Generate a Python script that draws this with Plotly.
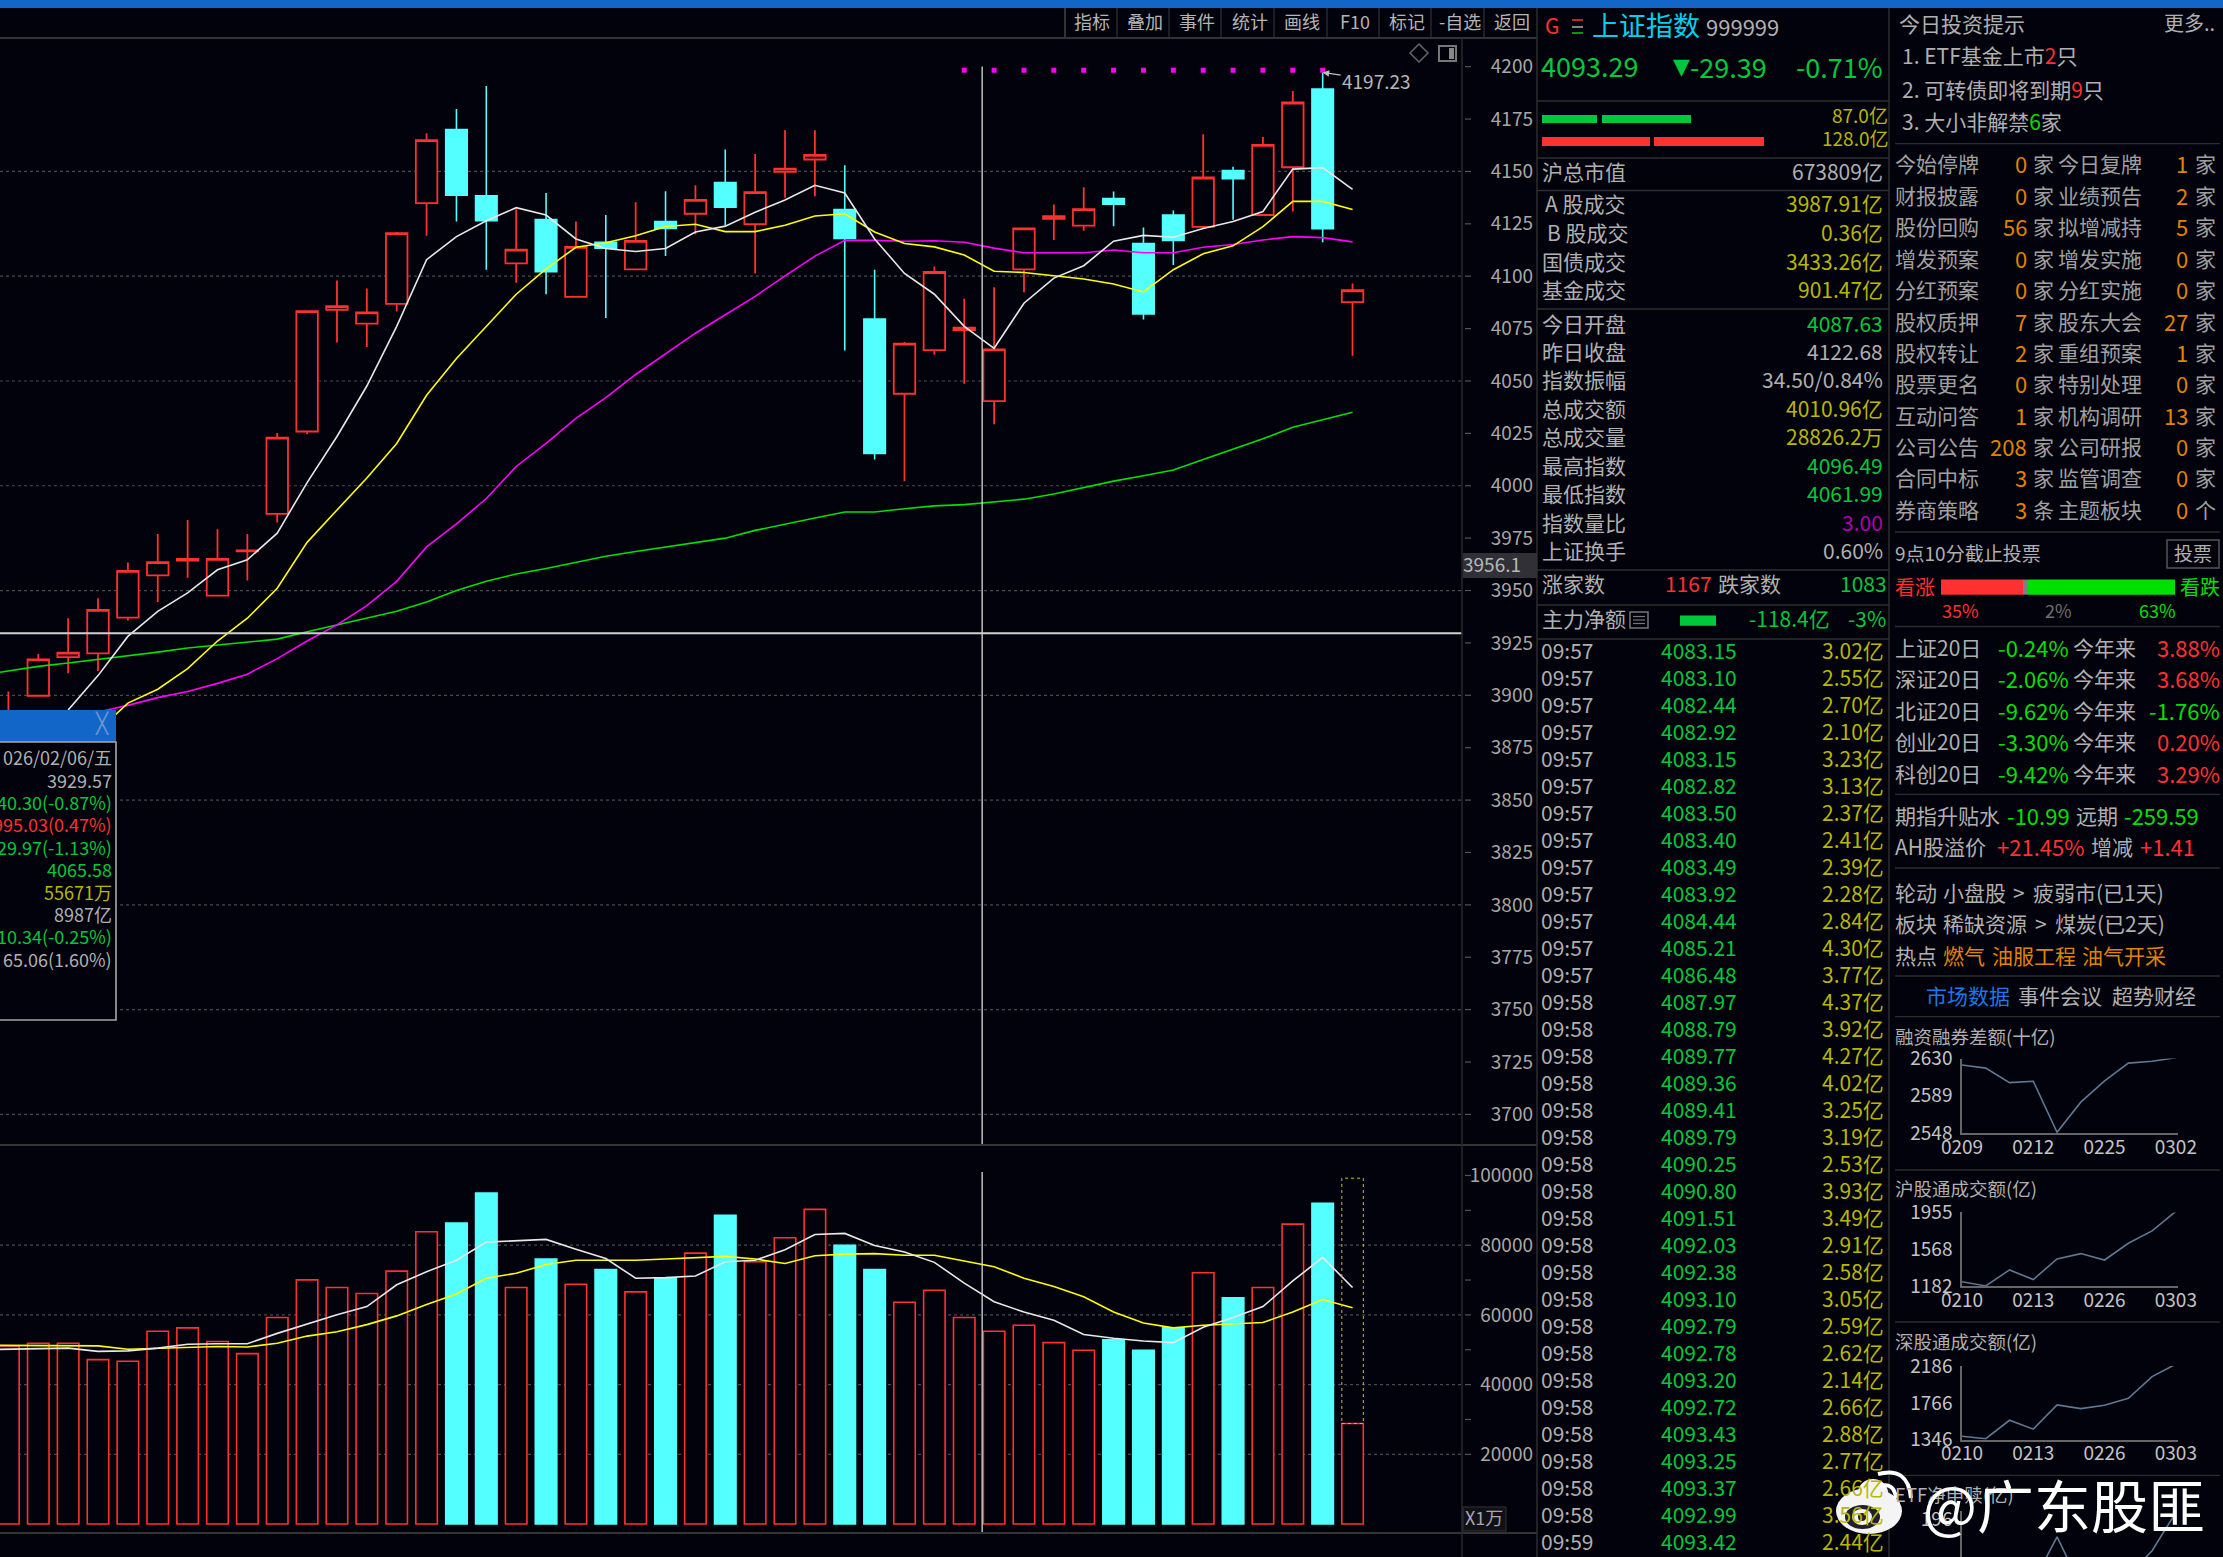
import plotly.graph_objects as go

W, H = 2223, 1557
BG = "#02020c"
RED = "#ff3030"
CYAN = "#54ffff"
GRAY = "#b0b0b0"
OLIVE = "#b8b800"
GREEN = "#00c83c"
LIME = "#00e000"
ORANGE = "#e08400"
BLUE = "#1166c8"
FONT = "Noto Sans CJK SC"

# ---------- kline data ----------
candle_open = [3870.0,3899.8,3918.2,3920.0,3937.1,3957.2,3964.3,3947.6,3968.7,3986.6,4025.9,4084.0,4077.4,4086.8,4134.9,4170.0,4138.4,4106.1,4127.0,4090.1,4116.2,4103.3,4126.1,4129.8,4144.7,4124.8,4149.8,4155.7,4131.8,4079.6,4043.9,4064.7,4074.3,4040.4,4103.3,4127.4,4124.1,4137.1,4115.6,4129.2,4123.5,4150.4,4129.2,4152.0,4189.3,4087.63]
candle_high = [3901.8,3919.7,3936.8,3946.3,3963.4,3977.0,3983.6,3979.2,3977.0,4025.2,4083.3,4098.0,4094.1,4121.1,4168.2,4179.8,4190.8,4132.0,4139.7,4126.1,4129.2,4135.3,4140.6,4143.4,4160.5,4158.3,4169.7,4169.7,4152.9,4103.1,4068.6,4104.6,4089.3,4094.7,4122.8,4134.2,4142.5,4140.4,4123.2,4131.4,4167.8,4152.2,4166.4,4188.4,4197.23,4096.49]
candle_low = [3865.0,3899.5,3910.5,3911.6,3935.7,3944.5,3956.1,3947.2,3954.8,3982.5,4024.6,4068.4,4066.2,4083.1,4119.3,4126.1,4103.1,4096.9,4091.4,4089.7,4080.0,4103.3,4109.6,4120.0,4124.3,4101.3,4137.5,4138.2,4064.5,4012.5,4002.2,4062.5,4048.7,4029.4,4092.3,4117.3,4121.7,4123.9,4079.4,4105.3,4122.8,4127.0,4128.7,4130.9,4116.2,4061.99]
candle_close = [3880.0,3917.1,3920.4,3940.8,3959.4,3963.6,3965.1,3965.1,3969.1,4023.0,4083.3,4085.7,4082.7,4120.6,4164.9,4138.6,4126.5,4112.7,4102.2,4114.0,4113.4,4116.9,4122.8,4136.4,4132.9,4140.1,4151.3,4157.9,4118.0,4015.4,4067.8,4102.0,4075.4,4065.1,4122.8,4128.7,4132.0,4134.4,4082.0,4117.1,4147.1,4146.5,4162.7,4182.9,4122.68,4093.29]

ma5_x = list(range(2, 46))
ma5 = [3893.0,3909.4,3928.1,3940.1,3948.9,3959.9,3964.7,3977.4,4001.5,4023.5,4047.6,4076.1,4107.9,4118.9,4126.5,4132.7,4129.2,4117.8,4113.2,4111.8,4113.2,4121.1,4123.9,4130.5,4136.4,4143.4,4139.7,4117.8,4101.3,4091.4,4076.1,4065.6,4087.1,4099.1,4105.0,4116.7,4119.5,4118.6,4122.8,4126.1,4130.9,4151.1,4151.8,4141.4]
ma10_x = list(range(3, 46))
ma10 = [3883.0,3896.3,3902.9,3912.7,3925.9,3936.8,3951.1,3973.0,3988.4,4003.7,4020.2,4043.2,4060.7,4076.1,4091.4,4103.5,4113.8,4116.0,4119.3,4123.7,4124.8,4121.3,4121.3,4124.3,4128.7,4129.8,4121.1,4115.6,4114.0,4110.1,4102.4,4101.8,4100.2,4098.7,4096.3,4092.5,4103.1,4110.7,4114.5,4123.7,4135.7,4135.7,4131.8]
ma20_x = list(range(3, 46))
ma20 = [3892.0,3895.2,3898.9,3901.8,3905.7,3910.1,3917.5,3925.9,3933.6,3942.8,3954.4,3970.8,3981.8,3993.9,4009.2,4020.2,4032.2,4042.1,4053.1,4062.9,4072.8,4081.6,4090.4,4100.2,4109.6,4117.1,4117.1,4116.7,4116.9,4116.2,4113.4,4111.2,4111.2,4111.2,4112.5,4111.2,4111.2,4113.8,4115.1,4117.3,4118.9,4118.4,4116.4]
ma60_x = list(range(-1, 46))
ma60 = [3909.4,3911.6,3913.8,3915.4,3917.1,3918.6,3920.6,3922.6,3923.9,3925.4,3926.8,3930.3,3933.6,3936.8,3940.1,3944.5,3950.0,3954.4,3957.9,3960.5,3963.4,3966.4,3968.6,3970.8,3972.8,3975.0,3978.7,3981.8,3984.6,3987.5,3987.5,3989.0,3990.4,3991.0,3992.3,3993.6,3996.1,3999.3,4002.2,4004.8,4007.5,4012.5,4017.5,4022.4,4027.9,4031.4,4035.1]

volume = [51100,51880,51880,47180,46710,55330,56270,52350,48900,59250,70060,67870,66140,72570,83860,86360,94980,67870,76020,68810,73040,66610,70530,77740,88560,75240,82130,90280,79940,73040,63640,67080,59250,55330,57050,52040,49840,52820,49840,56270,72100,64890,67870,86050,92000,28840]
volume_ghost = 99220
vol_ma_x = list(range(-1, 46))
vol_ma5 = [50000,50160,50470,50470,49530,49690,50470,51570,51720,51720,54700,57370,60030,62380,68650,72410,75700,80880,81190,81660,78840,76170,70530,70690,71160,75240,75700,78680,83070,83390,79940,78060,75080,69120,63790,60810,58460,54390,53290,52510,52040,56430,59250,62380,69750,76490,67870]
vol_ma10 = [51300,51250,51100,51100,51100,50160,50470,50630,50940,50780,51880,53920,55170,57210,59720,63010,65990,70530,71940,74450,75700,75700,75700,76020,76490,76800,76020,74770,76960,77430,77590,77120,77120,75390,73820,70530,68180,65200,60810,57680,56270,57050,57370,57840,60810,64420,62070]

price_ticks = [4200,4175,4150,4125,4100,4075,4050,4025,4000,3975,3950,3925,3900,3875,3850,3825,3800,3775,3750,3725,3700]
price_grid = [4150,4100,4050,4000,3950,3900,3850,3800,3750,3700]
vol_ticks = [100000,80000,60000,40000,20000]
vol_minor = [90000,70000,50000,30000]
vol_grid = [80000,60000,40000,20000]
high_marks_x = list(range(32, 45))
high_mark_level = 4198.3
peak_price = 4197.23
cross_price = 3929.57
cross_index = 32.6

# ---------- side panel data ----------
tape_times = ["09:57"]*13 + ["09:58"]*20 + ["09:59"]
tape_prices = ["4083.15","4083.10","4082.44","4082.92","4083.15","4082.82","4083.50","4083.40","4083.49","4083.92","4084.44","4085.21","4086.48","4087.97","4088.79","4089.77","4089.36","4089.41","4089.79","4090.25","4090.80","4091.51","4092.03","4092.38","4093.10","4092.79","4092.78","4093.20","4092.72","4093.43","4093.25","4093.37","4092.99","4093.42"]
tape_amounts = ["3.02","2.55","2.70","2.10","3.23","3.13","2.37","2.41","2.39","2.28","2.84","4.30","3.77","4.37","3.92","4.27","4.02","3.25","3.19","2.53","3.93","3.49","2.91","2.58","3.05","2.59","2.62","2.14","2.66","2.88","2.77","2.66","3.56","2.44"]

quote_labels = ["沪总市值","A 股成交","B 股成交","国债成交","基金成交","今日开盘","昨日收盘","指数振幅","总成交额","总成交量","最高指数","最低指数","指数量比","上证换手"]
quote_label_x = [1542,1545,1547,1542,1542,1542,1542,1542,1542,1542,1542,1542,1542,1542]
quote_values = ["673809亿","3987.91亿","0.36亿","3433.26亿","901.47亿","4087.63","4122.68","34.50/0.84%","4010.96亿","28826.2万","4096.49","4061.99","3.00","0.60%"]
quote_colors = [GRAY,OLIVE,OLIVE,OLIVE,OLIVE,GREEN,GRAY,GRAY,OLIVE,OLIVE,GREEN,GREEN,"#b000b0",GRAY]

tip_left = ["今始停牌","财报披露","股份回购","增发预案","分红预案","股权质押","股权转让","股票更名","互动问答","公司公告","合同中标","券商策略"]
tip_left_n = ["0","0","56","0","0","7","2","0","1","208","3","3"]
tip_left_u = ["家"]*11 + ["条"]
tip_right = ["今日复牌","业绩预告","拟增减持","增发实施","分红实施","股东大会","重组预案","特别处理","机构调研","公司研报","监管调查","主题板块"]
tip_right_n = ["1","2","5","0","0","27","1","0","13","0","0","0"]
tip_right_u = ["家"]*11 + ["个"]

perf_names = ["上证20日","深证20日","北证20日","创业20日","科创20日"]
perf_20d = ["-0.24%","-2.06%","-9.62%","-3.30%","-9.42%"]
perf_ytd = ["3.88%","3.68%","-1.76%","0.20%","3.29%"]

popup_rows = ["026/02/06/五","3929.57","40.30(-0.87%)","995.03(0.47%)","29.97(-1.13%)","4065.58","55671万","8987亿","10.34(-0.25%)","65.06(1.60%)"]
popup_colors = [GRAY,GRAY,GREEN,RED,GREEN,GREEN,OLIVE,GRAY,GREEN,GRAY]

toolbar = ["指标","叠加","事件","统计","画线","F10","标记","-自选","返回"]

margin_dates = ["0209","0212","0225","0302"]
margin_vals = [2623,2619.5,2603.5,2605,2548.8,2582,2605.4,2625,2627,2631]
margin_ticks = [2548,2589,2630]
sh_dates = ["0210","0213","0226","0303"]
sh_vals = [1230,1186,1353,1253,1468,1524,1457,1632,1762,1966]
sh_ticks = [1182,1568,1955]
sz_vals = [1386,1358,1568,1467,1742,1701,1738,1818,2065,2206]
sz_ticks = [1346,1766,2186]
etf_vals = [None,None,None,-57,126,-71,-100,-29,70,225]
etf_ticks = [62,196]

# ---------- helpers ----------
X = lambda x: x / W
Y = lambda y: 1 - y / H
annos, shapes = [], []

def T(x, y, text, color=GRAY, size=21, anchor="left", fontname=FONT):
    annos.append(dict(xref="paper", yref="paper", x=X(x), y=Y(y - 1.8), text=text, showarrow=False,
                      xanchor=anchor, yanchor="middle", align=anchor, borderpad=0, borderwidth=0,
                      font=dict(family=fontname, size=size, color=color)))

def rect(x0, y0, x1, y1, fill=None, line=None, lw=1, layer="above"):
    shapes.append(dict(type="rect", xref="paper", yref="paper", x0=X(x0), x1=X(x1), y0=Y(y0), y1=Y(y1),
                       fillcolor=fill or "rgba(0,0,0,0)", line=dict(color=line or "rgba(0,0,0,0)", width=lw if line else 0), layer=layer))

def oval(x0, y0, x1, y1, fill):
    shapes.append(dict(type="circle", xref="paper", yref="paper", x0=X(x0), x1=X(x1), y0=Y(y0), y1=Y(y1),
                       fillcolor=fill, line=dict(width=0), layer="above"))

def seg(x0, y0, x1, y1, color="#2e2e2e", lw=1.5, dash="solid"):
    shapes.append(dict(type="line", xref="paper", yref="paper", x0=X(x0), x1=X(x1), y0=Y(y0), y1=Y(y1),
                       line=dict(color=color, width=lw, dash=dash), layer="above"))

def curve(points, color="white", lw=4):
    (a, b), (c, d), (e, f) = points
    shapes.append(dict(type="path", xref="paper", yref="paper", layer="above",
                       path=f"M {X(a)} {Y(b)} Q {X(c)} {Y(d)} {X(e)} {Y(f)}",
                       line=dict(color=color, width=lw), fillcolor="rgba(0,0,0,0)"))

fig = go.Figure()
idx = list(range(len(candle_open)))

# ---------- kline ----------
fig.add_trace(go.Candlestick(x=idx, open=candle_open, high=candle_high, low=candle_low, close=candle_close,
    increasing=dict(line=dict(color=RED, width=1.8), fillcolor=BG),
    decreasing=dict(line=dict(color=CYAN, width=1.6), fillcolor=CYAN),
    whiskerwidth=0, xaxis="x", yaxis="y", showlegend=False))
for xs, ys, c, w in [(ma60_x, ma60, "#00e000", 1.6), (ma20_x, ma20, "#ff00ff", 1.6),
                     (ma10_x, ma10, "#ffff00", 1.6), (ma5_x, ma5, "#e8e8e8", 1.6)]:
    fig.add_trace(go.Scatter(x=xs, y=ys, mode="lines", line=dict(color=c, width=w), xaxis="x", yaxis="y", showlegend=False))
fig.add_trace(go.Scatter(x=high_marks_x, y=[high_mark_level]*len(high_marks_x), mode="markers",
                         marker=dict(symbol="square", size=5, color="#ff00ff"), xaxis="x", yaxis="y", showlegend=False))

# ---------- volume ----------
is_up = [c >= o for o, c in zip(candle_open, candle_close)]
fig.add_trace(go.Bar(x=idx, y=volume, width=0.72, xaxis="x2", yaxis="y2", showlegend=False,
    marker=dict(color=[BG if u else CYAN for u in is_up], line=dict(color=[RED if u else CYAN for u in is_up], width=1.6))))
fig.add_trace(go.Scatter(x=vol_ma_x, y=vol_ma10, mode="lines", line=dict(color="#ffff00", width=1.6), xaxis="x2", yaxis="y2", showlegend=False))
fig.add_trace(go.Scatter(x=vol_ma_x, y=vol_ma5, mode="lines", line=dict(color="#e8e8e8", width=1.6), xaxis="x2", yaxis="y2", showlegend=False))

# ---------- sparklines ----------
spark_x = list(range(10))
for n, vals in zip([3, 4, 5, 6], [margin_vals, sh_vals, sz_vals, etf_vals]):
    fig.add_trace(go.Scatter(x=spark_x, y=vals, mode="lines", line=dict(color="#5f7893", width=1.6), cliponaxis=False,
                             connectgaps=False, xaxis=f"x{n}", yaxis=f"y{n}", showlegend=False))

XR = [-8.4 / 29.87, (1462 - 8.4) / 29.87]
tickfont = dict(family=FONT, size=19, color="#a8a8a8")
layout = dict(
    width=W, height=H, margin=dict(l=0, r=0, t=0, b=0, pad=0, autoexpand=False), paper_bgcolor=BG, plot_bgcolor=BG, autosize=False,
    bargap=0.28, boxgap=0.28, boxgroupgap=0, hovermode=False,
    font=dict(family=FONT),
    xaxis=dict(domain=[0, 1462 / W], range=XR, visible=False, rangeslider=dict(visible=False), anchor="y"),
    yaxis=dict(domain=[Y(1145), Y(39)], range=[3685.4, 4213.2], anchor="free", position=1533 / W, side="left",
               tickmode="array", tickvals=price_ticks, ticks="", showgrid=False, zeroline=False, showline=False, tickfont=tickfont),
    xaxis2=dict(domain=[0, 1462 / W], range=XR, visible=False, anchor="y2"),
    yaxis2=dict(domain=[Y(1533), Y(1145)], range=[-2582, 108752], anchor="free", position=1533 / W, side="left",
                tickmode="array", tickvals=vol_ticks, tickformat="d", ticks="", showgrid=False, zeroline=False, showline=False, tickfont=tickfont),
)

def spark_axes(n, top, bottom, ymin, ymax, yticks, dates, show_x=True):
    layout[f"xaxis{n}"] = dict(domain=[1962 / W, 2178 / W], range=[0, 9.09], anchor=f"y{n}", showgrid=False, zeroline=False,
                               showline=show_x, linecolor="#666666", linewidth=1.5, ticks="", ticklabelstandoff=-4,
                               tickmode="array", tickvals=[0, 3, 6, 9] if show_x else [], ticktext=dates, tickfont=dict(family=FONT, size=19, color="#c4c4c4"))
    layout[f"yaxis{n}"] = dict(domain=[Y(bottom), Y(top)], range=[ymin, ymax], anchor=f"x{n}", showgrid=False, zeroline=False,
                               showline=True, linecolor="#666666", linewidth=1.5, ticks="",
                               tickmode="array", tickvals=yticks, tickfont=dict(family=FONT, size=19, color="#c4c4c4"), ticklabelstandoff=4)

spark_axes(3, 1058.6, 1133, margin_ticks[0], margin_ticks[-1], margin_ticks, margin_dates)
spark_axes(4, 1212.4, 1286.3, sh_ticks[0], sh_ticks[-1], sh_ticks, sh_dates)
spark_axes(5, 1365.9, 1439.8, sz_ticks[0], sz_ticks[-1], sz_ticks, sh_dates)
spark_axes(6, 1511, 1557, 44.7, 230.8, etf_ticks, [], show_x=False)

# ---------- chart furniture ----------
for v in price_grid:
    shapes.append(dict(type="line", xref="paper", yref="y", x0=0, x1=1462 / W, y0=v, y1=v, layer="below",
                       line=dict(color="#4a4a4a", width=1.2, dash="dot")))
for v in vol_grid:
    shapes.append(dict(type="line", xref="paper", yref="y2", x0=0, x1=1462 / W, y0=v, y1=v, layer="below",
                       line=dict(color="#4a4a4a", width=1.2, dash="dot")))
for v in price_ticks:
    shapes.append(dict(type="line", xref="paper", yref="y", x0=1465 / W, x1=1471 / W, y0=v, y1=v, line=dict(color="#555555", width=1.2), layer="above"))
for v in vol_ticks + vol_minor:
    shapes.append(dict(type="line", xref="paper", yref="y2", x0=1465 / W, x1=1471 / W, y0=v, y1=v, line=dict(color="#555555", width=1.2), layer="above"))

# ghost volume box
shapes.append(dict(type="rect", xref="x2", yref="y2", x0=44.64, x1=45.36, y0=volume[-1], y1=volume_ghost,
                   line=dict(color="#c8c800", width=1, dash="dot"), fillcolor="rgba(0,0,0,0)", layer="above"))
# crosshair
shapes.append(dict(type="line", xref="x", yref="paper", x0=cross_index, x1=cross_index, y0=Y(1145), y1=Y(66.6), line=dict(color="#d8d8d8", width=1.3), layer="above"))
shapes.append(dict(type="line", xref="x2", yref="paper", x0=cross_index, x1=cross_index, y0=Y(1533), y1=Y(1172), line=dict(color="#d8d8d8", width=1.3), layer="above"))
shapes.append(dict(type="line", xref="paper", yref="y", x0=0, x1=1462 / W, y0=cross_price, y1=cross_price, line=dict(color="#d0d0d0", width=2), layer="above"))

# frame
rect(0, 0, W, 8, fill=BLUE)
seg(0, 38, 1537, 38, "#333333", 2)
seg(0, 1145, 1537, 1145, "#333333", 2)
seg(0, 1533, 1537, 1533, "#333333", 2)
seg(1462, 38, 1462, 1557, "#2a2a2a", 1.5)
seg(1537, 8, 1537, H, "#2e2e2e", 1.5)
seg(1889, 8, 1889, H, "#2e2e2e", 1.5)
for sx in [1065, 1117, 1169, 1221, 1274, 1327, 1379, 1431, 1484]:
    seg(sx, 8, sx, 38, "#333333", 2 if sx == 1065 else 1.2)
for i, lab in enumerate(toolbar):
    T(1092 + 52.5 * i, 23, lab, "#b4b4b4", 18, "center")

# chart icons
shapes.append(dict(type="path", xref="paper", yref="paper", layer="above",
                   path=f"M {X(1410)} {Y(53)} L {X(1419)} {Y(44)} L {X(1428)} {Y(53)} L {X(1419)} {Y(62)} Z",
                   line=dict(color="#666666", width=1.5), fillcolor="rgba(0,0,0,0)"))
rect(1439, 46, 1456, 61, line="#777777", lw=2)
rect(1449, 48, 1454, 59, fill="#888888")

# crosshair value box
rect(1463, 553, 1537, 578, fill="#303036")
T(1492, 565.5, "3956.1", "#b8b8b8", 19, "center")
rect(1463, 1507, 1506, 1531, fill="#101016", line="#333333", lw=1)
T(1484, 1519, "X1万", "#a8a8a8", 18, "center")

# peak label
annos.append(dict(xref="x", yref="y", x=44, y=peak_price, text="4197.23", showarrow=True, arrowhead=2, arrowsize=1, arrowwidth=1.3,
                  arrowcolor="#c0c0c0", ax=54, ay=8, standoff=0, font=dict(family=FONT, size=19, color="#b8b8b8")))

# popup
rect(0, 710, 116, 742, fill=BLUE)
rect(-3, 742, 116, 1020, fill=BG, line="#a8a8a8", lw=1.6)
T(101.5, 725, "╳", "#6f95cf", 20, "center", "DejaVu Sans")
for i, (s, c) in enumerate(zip(popup_rows, popup_colors)):
    T(111.5, 759 + 22.4 * i, s, c, 18, "right")

# ---------- middle panel ----------
for y in [101, 158, 190.6, 309, 570, 605, 639]:
    seg(1537, y, 1889, y, "#303030", 1.5)
T(1552, 27, "G", RED, 21, "center")
for ly, c in [(20, RED), (27, "#b0b0b0"), (33, "#00d000")]:
    seg(1572, ly, 1583, ly, c, 1.5)
T(1592, 26.5, "上证指数", "#00d0f0", 27)
T(1706, 27.5, "999999", GRAY, 22)
T(1541, 67, "4093.29", GREEN, 27)
T(1681, 68, "▼", GREEN, 22, "center", "DejaVu Sans")
T(1767, 68, "-29.39", GREEN, 27, "right")
T(1883, 68, "-0.71%", GREEN, 27, "right")
rect(1542, 115, 1597, 123, fill="#00c83c")
rect(1602, 115, 1691, 123, fill="#00c83c")
rect(1542, 137, 1650, 146, fill=RED)
rect(1654, 137, 1764, 146, fill=RED)
T(1888, 116, "87.0亿", OLIVE, 19, "right")
T(1888, 139, "128.0亿", OLIVE, 19, "right")
quote_y = [172.6, 205, 234, 262.5, 290.6, 324.5, 352.7, 381, 409.4, 438, 466.5, 495, 523.7, 552]
for lab, lx, val, col, y in zip(quote_labels, quote_label_x, quote_values, quote_colors, quote_y):
    T(lx, y, lab, GRAY, 21)
    T(1883, y, val, col, 21, "right")
T(1542, 585, "涨家数", GRAY, 21)
T(1712, 585, "1167", RED, 21, "right")
T(1718, 585, "跌家数", GRAY, 21)
T(1887, 585, "1083", GREEN, 21, "right")
T(1542, 620, "主力净额", GRAY, 21)
rect(1630, 612, 1648, 628, line="#777777", lw=1.5)
for ly in [616.5, 620, 623.5]:
    seg(1633, ly, 1645, ly, "#777777", 1.2)
rect(1680, 615.5, 1716, 625.7, fill="#00c83c")
T(1830, 620, "-118.4亿", GREEN, 21, "right")
T(1886, 620, "-3%", GREEN, 21, "right")
for i, (t, p, a) in enumerate(zip(tape_times, tape_prices, tape_amounts)):
    y = 651.7 + 27 * i
    T(1541, y, t, GRAY, 21)
    T(1737, y, p, GREEN, 21, "right")
    T(1884, y, a + "亿", OLIVE, 21, "right")

# ---------- right panel ----------
T(1899, 24.5, "今日投资提示", GRAY, 21)
T(2215, 24.5, "更多..", GRAY, 20, "right")
span = lambda s, c: f'<span style="color:{c}">{s}</span>'
T(1902, 57, "1. ETF基金上市" + span("2", RED) + "只", GRAY, 21)
T(1902, 90.6, "2. 可转债即将到期" + span("9", RED) + "只", GRAY, 21)
T(1902, 123, "3. 大小非解禁" + span("6", LIME) + "家", GRAY, 21)
for y in [143.7, 532, 626.5, 794.3, 868, 976, 1016.7, 1170, 1322, 1475.3]:
    seg(1895, y, 2220, y, "#2c2c2c", 1.3)
for i in range(12):
    y = 165.3 + 31.4 * i
    T(1895, y, tip_left[i], "#a0a0a0", 21)
    T(2027, y, tip_left_n[i], ORANGE, 22, "right")
    T(2033, y, tip_left_u[i], "#a0a0a0", 21)
    T(2058, y, tip_right[i], "#a0a0a0", 21)
    T(2188, y, tip_right_n[i], ORANGE, 22, "right")
    T(2195, y, tip_right_u[i], "#a0a0a0", 21)
T(1895, 554, "9点10分截止投票", GRAY, 19)
rect(2167, 540, 2219, 568, line="#555555", lw=1.5)
T(2193, 554, "投票", GRAY, 19, "center")
T(1895, 588, "看涨", RED, 20)
T(2220, 588, "看跌", LIME, 20, "right")
rect(1941, 579.6, 2023, 594.7, fill=RED)
rect(2023, 579.6, 2028, 594.7, fill="#808080")
rect(2028, 579.6, 2175, 594.7, fill="#00e000")
T(1960, 612, "35%", RED, 18, "center")
T(2058, 612, "2%", "#707070", 18, "center")
T(2157, 612, "63%", LIME, 18, "center")
for i in range(5):
    y = 648.3 + 31.6 * i
    T(1895, y, perf_names[i], GRAY, 21)
    T(2069, y, perf_20d[i], LIME, 22, "right")
    T(2073, y, "今年来", GRAY, 21)
    T(2220, y, perf_ytd[i], LIME if perf_ytd[i].startswith("-") else RED, 22, "right")
T(1895, 816.7, "期指升贴水", GRAY, 21)
T(2007, 816.7, "-10.99", LIME, 22)
T(2076, 816.7, "远期", GRAY, 21)
T(2124, 816.7, "-259.59", LIME, 22)
T(1895, 848, "AH股溢价", GRAY, 21)
T(1997, 848, "+21.45%", RED, 22)
T(2091, 848, "增减", GRAY, 21)
T(2140, 848, "+1.41", RED, 22)
T(1895, 894, "轮动", GRAY, 21)
T(1943, 894, "小盘股", GRAY, 21)
T(2013, 894, "&gt;", GRAY, 21)
T(2033, 894, "疲弱市(已1天)", GRAY, 21)
T(1895, 925, "板块", GRAY, 21)
T(1943, 925, "稀缺资源", GRAY, 21)
T(2035, 925, "&gt;", GRAY, 21)
T(2055, 925, "煤炭(已2天)", GRAY, 21)
T(1895, 956.7, "热点", GRAY, 21)
T(1943, 956.7, "燃气", ORANGE, 21)
T(1992, 956.7, "油服工程", ORANGE, 21)
T(2082, 956.7, "油气开采", ORANGE, 21)
T(1926, 996.7, "市场数据", "#1a78e8", 21)
T(2018, 996.7, "事件会议", GRAY, 21)
T(2112, 996.7, "超势财经", GRAY, 21)
T(1895, 1037.3, "融资融券差额(十亿)", GRAY, 18.5)
T(1895, 1190, "沪股通成交额(亿)", GRAY, 18.5)
T(1895, 1342.8, "深股通成交额(亿)", GRAY, 18.5)
T(1895, 1495.6, "ETF净申赎(亿)", GRAY, 18.5)

# ---------- watermark ----------
oval(1836, 1488, 1902, 1534, "#f4f4f4")
oval(1858, 1479, 1888, 1506, "#f4f4f4")
oval(1845, 1505, 1880, 1529, "#20202a")
oval(1852, 1509, 1872, 1525, "#f4f4f4")
oval(1858, 1513, 1866, 1521, "#20202a")
curve([(1878, 1474), (1908, 1466), (1911, 1498)])
curve([(1880, 1486), (1894, 1482), (1896, 1498)])
T(1923, 1505, "@广东股匪", "#ffffff", 57)

layout["shapes"] = shapes
layout["annotations"] = annos
fig.update_layout(**layout)
fig.write_html("out.html", config={"displayModeBar": False},
               post_script="document.body.style.margin='0';document.body.style.background='#02020c';document.body.style.overflow='hidden';")
